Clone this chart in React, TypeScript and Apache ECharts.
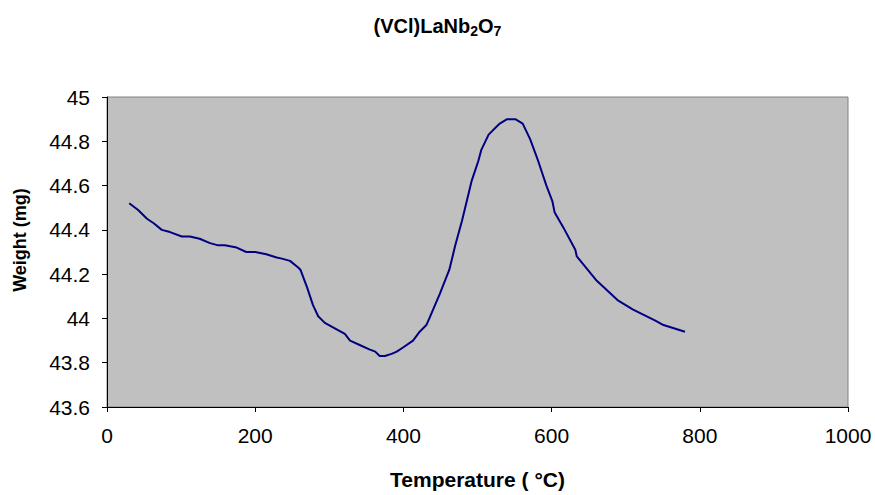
import React, { useEffect, useRef } from "react";
import * as echarts from "echarts";

const temperatures = [30, 42, 54, 63, 74, 85, 101, 112, 125, 139, 150, 159, 175, 188, 200, 215, 229, 236, 247, 258, 261, 270, 278, 285, 294, 305, 321, 328, 341, 354, 362, 368, 375, 384, 391, 400, 413, 422, 431, 435, 449, 462, 470, 479, 492, 501, 505, 515, 530, 540, 551, 561, 571, 582, 593, 601, 604, 616, 632, 634, 661, 690, 710, 740, 751, 780];
const weights = [44.52, 44.49, 44.45, 44.43, 44.40, 44.39, 44.37, 44.37, 44.36, 44.34, 44.33, 44.33, 44.32, 44.30, 44.30, 44.29, 44.275, 44.27, 44.26, 44.23, 44.22, 44.14, 44.06, 44.01, 43.98, 43.96, 43.93, 43.90, 43.88, 43.86, 43.85, 43.83, 43.83, 43.84, 43.85, 43.87, 43.90, 43.94, 43.97, 44.00, 44.11, 44.22, 44.33, 44.44, 44.62, 44.71, 44.76, 44.83, 44.88, 44.90, 44.90, 44.88, 44.81, 44.71, 44.60, 44.53, 44.48, 44.41, 44.31, 44.28, 44.17, 44.08, 44.04, 43.99, 43.97, 43.94];

const xTicks = [0, 200, 400, 600, 800, 1000];
const yTicks = [43.6, 43.8, 44, 44.2, 44.4, 44.6, 44.8, 45];

export default function App() {
  const ref = useRef<HTMLDivElement>(null);
  useEffect(() => {
    if (!ref.current) return;
    const chart = echarts.init(ref.current, null, { renderer: "svg" });
    const font = "Liberation Sans, Arial, sans-serif";
    chart.setOption({
      animation: false,
      backgroundColor: "#ffffff",
      title: {
        text: "{a|(VCl)LaNb}{s|2}{a|O}{s|7}",
        left: "center",
        top: 9,
        textStyle: {
          rich: {
            a: { fontFamily: font, fontWeight: "bold", fontSize: 20, color: "#000" },
            s: { fontFamily: font, fontWeight: "bold", fontSize: 14, color: "#000", padding: [10, 0, 0, 0] },
          },
        },
      },
      grid: { left: 107, right: 27, top: 97, bottom: 85, show: true, backgroundColor: "#C0C0C0", borderColor: "#808080", borderWidth: 1 },
      xAxis: {
        type: "value",
        min: xTicks[0],
        max: xTicks[xTicks.length - 1],
        interval: 200,
        name: "Temperature ( °C)",
        nameLocation: "middle",
        nameGap: 62,
        nameTextStyle: { fontFamily: font, fontWeight: "bold", fontSize: 21, color: "#000" },
        axisLine: { show: true, lineStyle: { color: "#000", width: 1 } },
        axisTick: { show: true, length: 5, inside: false, lineStyle: { color: "#000" } },
        axisLabel: { fontFamily: font, fontSize: 21, color: "#000", margin: 18, formatter: (v: number) => String(v) },
        splitLine: { show: false },
      },
      yAxis: {
        type: "value",
        min: yTicks[0],
        max: yTicks[yTicks.length - 1],
        interval: 0.2,
        name: "Weight (mg)",
        nameLocation: "middle",
        nameGap: 78,
        nameTextStyle: { fontFamily: font, fontWeight: "bold", fontSize: 18, color: "#000", padding: [0, 0, 0, 24] },
        axisLine: { show: true, lineStyle: { color: "#000", width: 1 } },
        axisTick: { show: true, length: 5, inside: false, lineStyle: { color: "#000" } },
        axisLabel: { fontFamily: font, fontSize: 21, color: "#000", margin: 17, formatter: (v: number) => String(Math.round(v * 10) / 10) },
        splitLine: { show: false },
      },
      series: [
        {
          type: "line",
          data: temperatures.map((t, i) => [t, weights[i]]),
          showSymbol: false,
          symbol: "none",
          lineStyle: { color: "#000080", width: 2 },
        },
      ],
    });
    return () => chart.dispose();
  }, []);
  return <div ref={ref} style={{ position: "fixed", left: 0, top: 0, width: 875, height: 495 }} />;
}
